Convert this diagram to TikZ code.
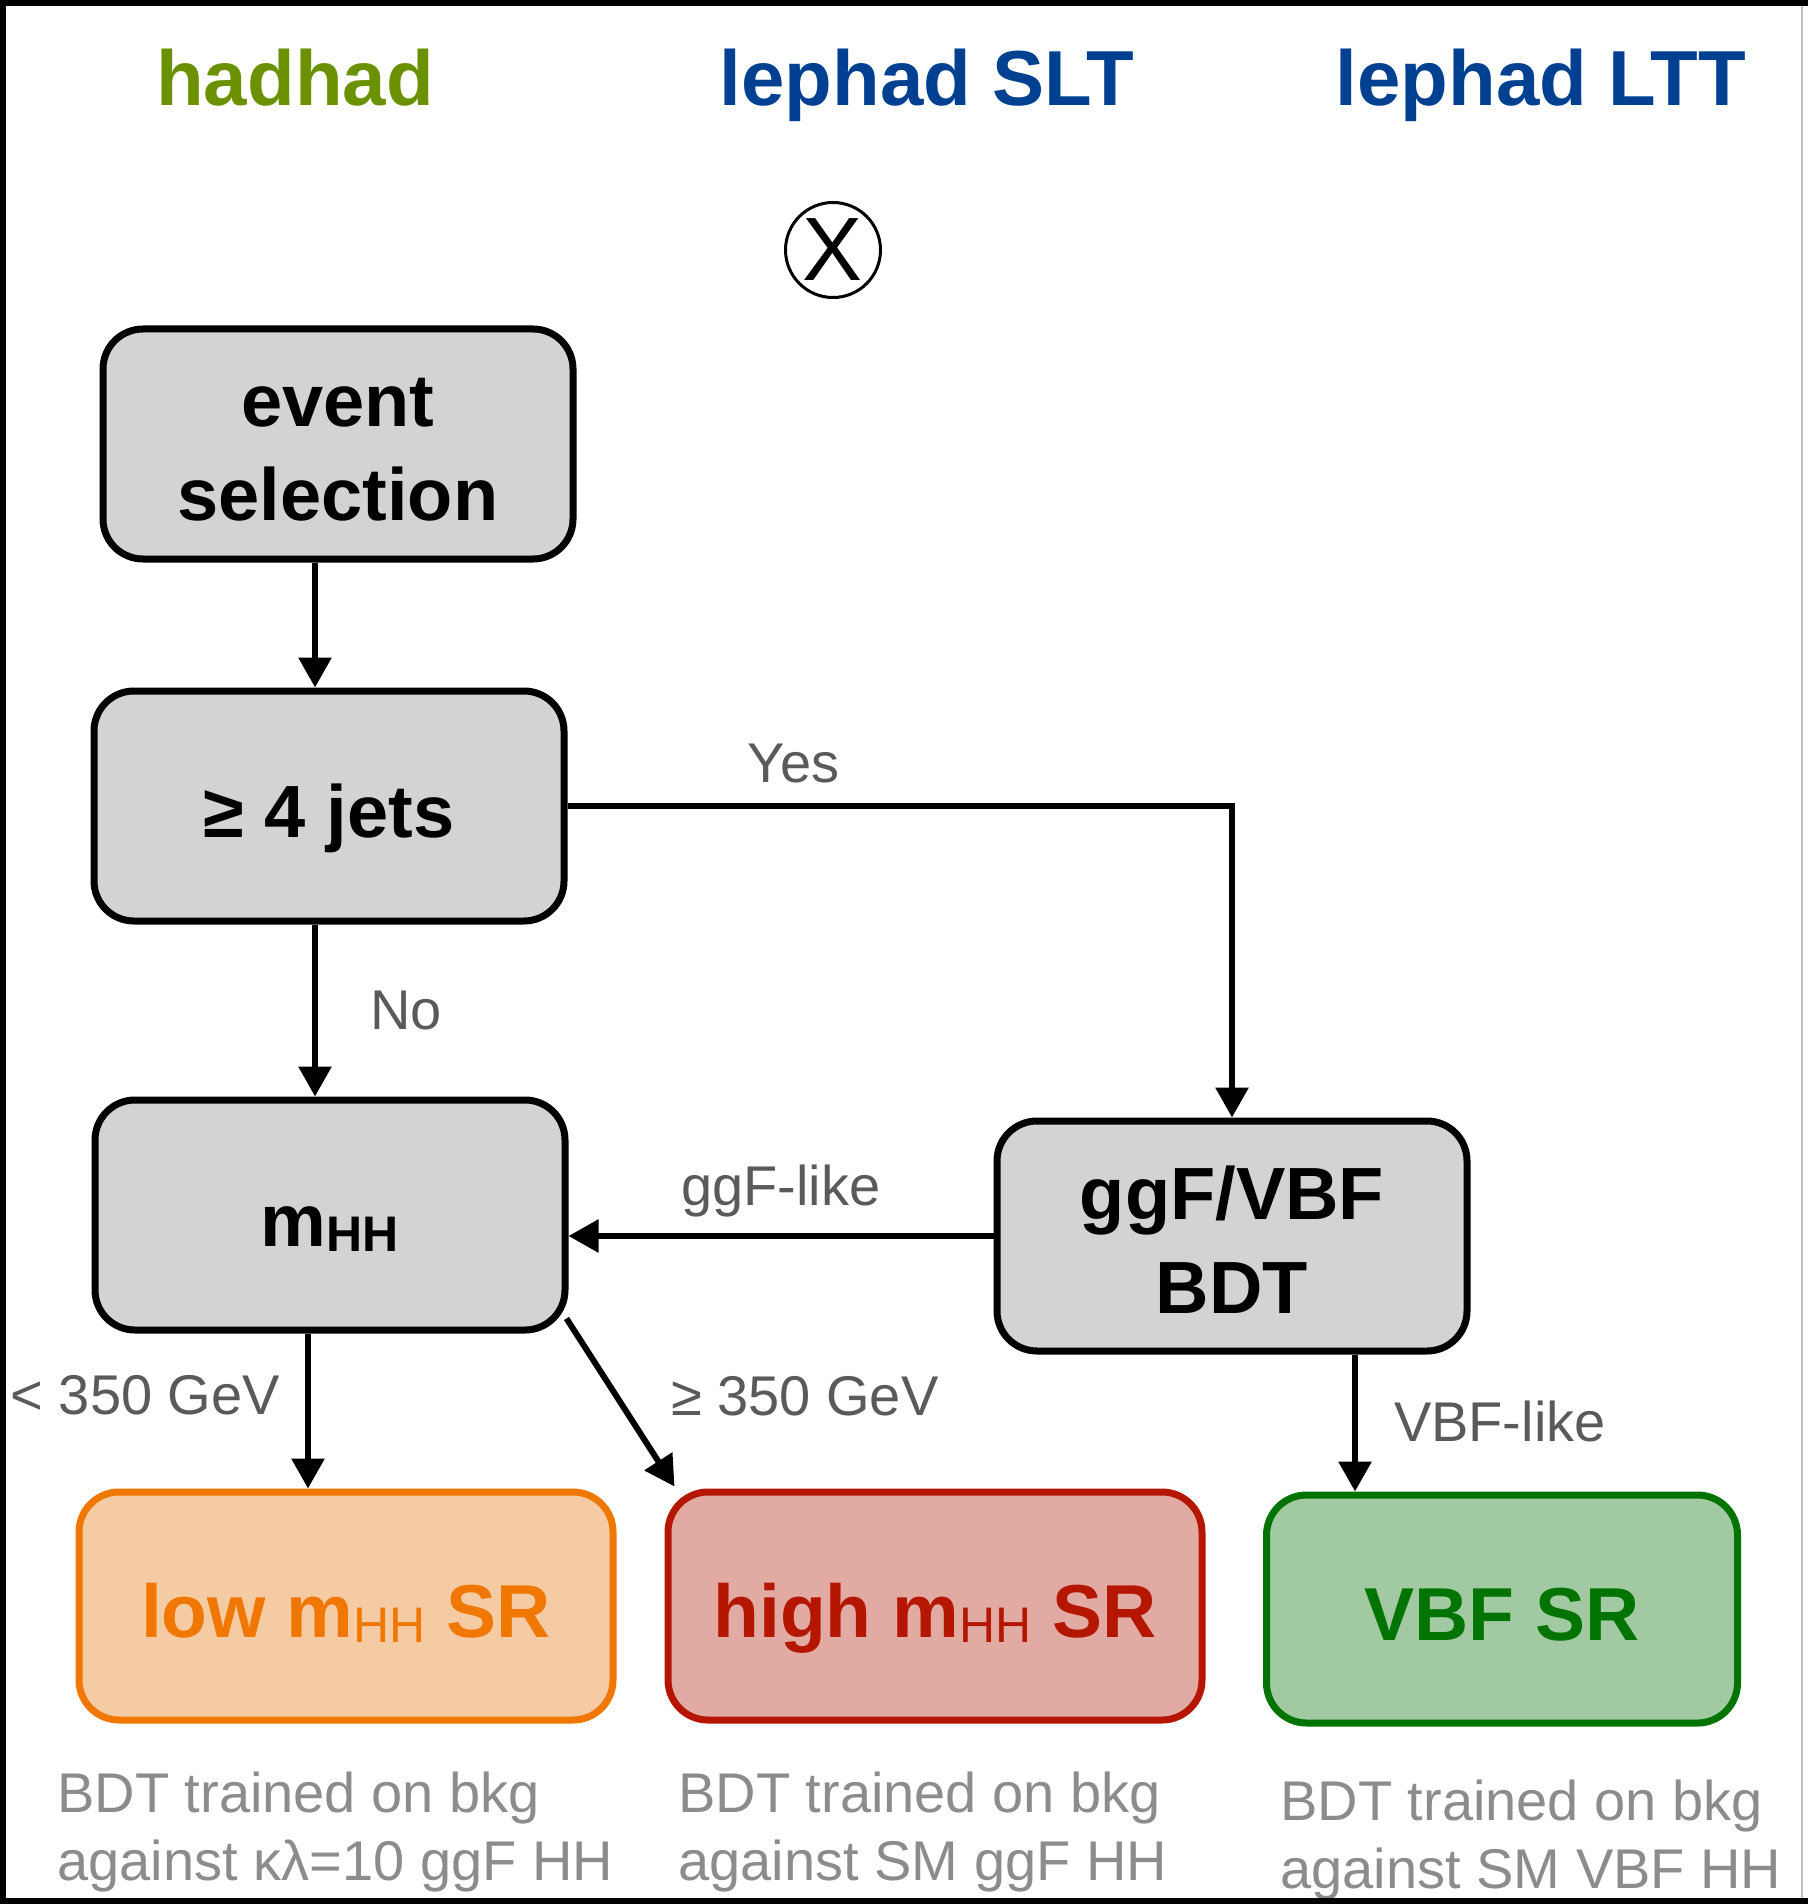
\documentclass[tikz,border=0pt]{standalone}
\usepackage{fontspec}
\setmainfont{Liberation Sans}
\usetikzlibrary{positioning, arrows.meta, calc}

\definecolor{hadgreen}{RGB}{107,145,0}
\definecolor{lepblue}{RGB}{0,64,145}
\definecolor{boxgray}{RGB}{211,211,211}
\definecolor{lowline}{RGB}{240,120,0}
\definecolor{lowfill}{RGB}{245,203,164}
\definecolor{highline}{RGB}{180,22,0}
\definecolor{highfill}{RGB}{225,171,164}
\definecolor{vbfline}{RGB}{0,115,0}
\definecolor{vbffill}{RGB}{162,202,162}
\definecolor{lblgray}{RGB}{90,90,90}
\definecolor{notegray}{RGB}{140,140,140}

\newcommand{\hhsub}[1]{{\fontsize{25}{25}\selectfont\raisebox{-2.5pt}{#1}}}
\newcommand{\topstrut}{\rule{0pt}{30pt}}

\begin{document}
\begin{tikzpicture}[x=0.5pt, y=-0.5pt,
  stage/.style={draw, line width=3.5pt, rounded corners=20pt, fill=boxgray, minimum width=235pt, minimum height=115pt, align=center, font=\fontsize{37}{47}\selectfont\bfseries},
  oneline/.style={text height=36pt, text depth=5pt},
  region/.style={stage, oneline, minimum width=267pt, minimum height=114pt, font=\fontsize{37.5}{47}\selectfont\bfseries},
  arr/.style={line width=3pt, -{Triangle[length=15pt, width=16pt]}},
  lbl/.style={text=lblgray, font=\fontsize{28}{34}\selectfont, inner sep=0pt},
  note/.style={text=notegray, font=\fontsize{28}{34}\selectfont, align=left, anchor=west, inner sep=0pt},
  head/.style={font=\fontsize{39}{47}\selectfont\bfseries, anchor=base}]
\useasboundingbox (0,0) rectangle (1808,1904);
% Channels
\node[head, text=hadgreen] (hadhad) at (295,106) {hadhad};
\node[head, text=lepblue] (slt) at (927,106) {lephad SLT};
\node[head, text=lepblue] (ltt) at (1541,106) {lephad LTT};
\node[circle, draw, line width=1.5pt, minimum size=47.5pt, inner sep=0pt, font=\fontsize{45}{45}\selectfont] (times) at (833,250) {X};
% Selection steps
\node[stage] (evsel) at (338,444) {\topstrut event\\selection};
\node[stage, oneline] (jets) at (329,806) {≥ 4 jets};
\node[stage, oneline] (mhh) at (330,1215) {m\hhsub{HH}};
\node[stage] (bdt) at (1232,1236) {\topstrut ggF/VBF\\BDT};
% Signal regions
\node[region, draw=lowline, fill=lowfill, text=lowline] (low) at (346,1606) {low m{\mdseries\hhsub{HH}} SR};
\node[region, draw=highline, fill=highfill, text=highline] (high) at (935,1606) {high m{\mdseries\hhsub{HH}} SR};
\node[region, draw=vbfline, fill=vbffill, text=vbfline, minimum width=235.5pt] (vbf) at (1502,1609) {VBF SR};
% Arrows
\coordinate (xa) at (315,0);
\coordinate (xb) at (308,0);
\coordinate (xc) at (1355,0);
\draw[arr] (evsel.south -| xa) -- (jets.north -| xa);
\draw[arr] (jets.south -| xa) -- (mhh.north -| xa) node[lbl, midway, right=26pt] {No};
\draw[arr] (jets.east) -| (bdt.north) node[lbl, pos=0.17, above=10pt] {Yes};
\draw[arr] (bdt.west) -- (bdt.west -| mhh.east) node[lbl, midway, above=8pt] {ggF-like};
\draw[arr] (mhh.south -| xb) -- (low.north -| xb) node[lbl, pos=0.4, left=12.5pt] {< 350 GeV};
\draw[arr] ($(mhh.south east)+(-2,-15)$) -- ($(high.north west)+(10,-2)$) node[lbl, pos=0.46, right=26pt] {≥ 350 GeV};
\draw[arr] (bdt.south -| xc) -- (vbf.north -| xc) node[lbl, pos=0.49, right=18pt] {VBF-like};
% BDT notes
\node[note] (lownote) at (57,1832) {BDT trained on bkg\\against κλ=10 ggF HH};
\node[note] (highnote) at (678,1832) {BDT trained on bkg\\against SM ggF HH};
\node[note] (vbfnote) at (1280,1840) {BDT trained on bkg\\against SM VBF HH};
% Frame
\draw[gray!50, line width=1pt] (1802,3) -- (1802,1901);
\draw[line width=3pt] (1808,3) -- (3,3) -- (3,1901) -- (1808,1901);
\end{tikzpicture}
\end{document}
